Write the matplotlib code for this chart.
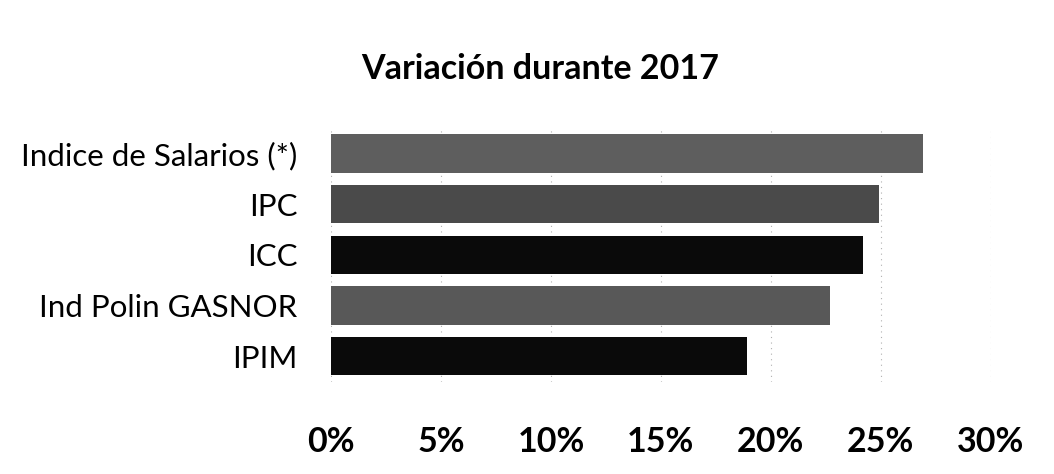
import matplotlib
matplotlib.use("Agg")
import matplotlib.pyplot as plt
from matplotlib.ticker import FuncFormatter, MultipleLocator

# valores (variacion % durante 2017)
categorias = ["Indice de Salarios (*)", "IPC", "ICC", "Ind Polin GASNOR", "IPIM"]
variacion = [26.9, 24.9, 24.2, 22.7, 18.9]
colores = ["#5e5e5e", "#4a4a4a", "#0a0a0a", "#585858", "#0a0a0a"]

plt.rcParams["font.family"] = ["Lato", "DejaVu Sans"]

fig = plt.figure(figsize=(10.54, 4.74), dpi=100)
ax = fig.add_axes([0.314, 0.195, 0.626, 0.535])

pos = list(range(len(categorias)))[::-1]
ax.barh(pos, variacion, height=0.76, color=colores, edgecolor="none", zorder=2)

ax.set_xlim(0, 30)
ax.set_ylim(-0.5, 4.5)
ax.xaxis.set_major_locator(MultipleLocator(5))
ax.xaxis.set_major_formatter(FuncFormatter(lambda v, p: f"{v:.0f}%"))
ax.set_yticks(pos)
ax.set_yticklabels(categorias, fontsize=22.5)
ax.tick_params(axis="y", length=0, pad=24)
ax.tick_params(axis="x", length=0, pad=32, labelsize=24.5)
for lbl in ax.get_xticklabels():
    lbl.set_fontweight("bold")

ax.grid(axis="x", color="#b0b0b0", linestyle=(0, (1, 4)), linewidth=0.8, zorder=0)
for s in ax.spines.values():
    s.set_visible(False)

fig.text(0.512, 0.855, "Variación durante 2017", ha="center", va="center",
         fontsize=24.5, fontweight="bold")

fig.savefig("out.png", dpi=100, facecolor="white")
